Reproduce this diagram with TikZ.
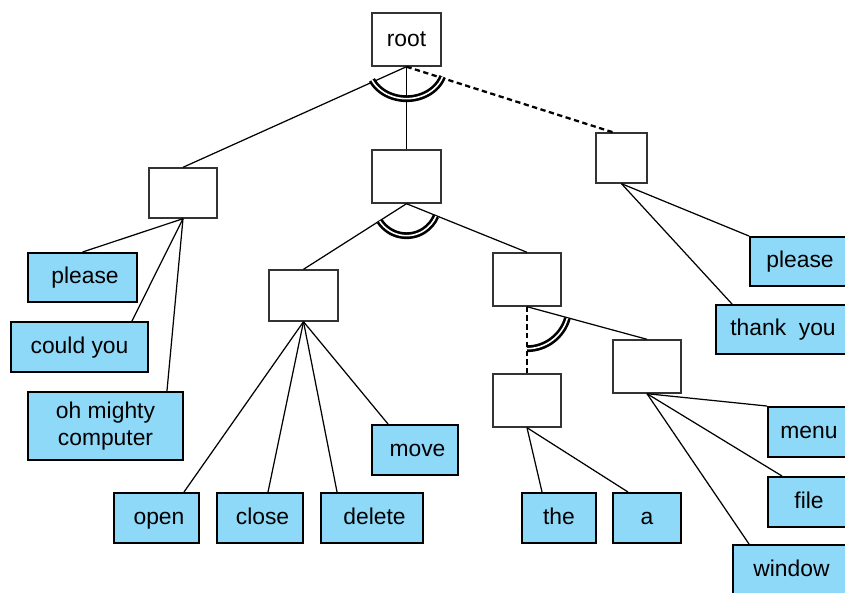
\documentclass[tikz,border=0pt]{standalone}
\usepackage{fontspec}
\setmainfont{Liberation Sans}
\definecolor{wordblue}{RGB}{142,216,248}
\tikzset{
  blank/.style={draw=black!80, line width=0.8pt, fill=white, inner sep=0pt},
  word/.style={draw=black, line width=1.1pt, fill=wordblue, inner sep=0pt,
    minimum height=1cm, font=\fontsize{13}{15}\selectfont, align=center,
    text height=0.9em, text depth=0.2em},
  edge/.style={line width=0.7pt},
  optedge/.style={line width=1.3pt, dash pattern=on 3pt off 2pt},
  andarc/.style={double, line width=1.5pt, double distance=0.9pt}
}
\begin{document}
\begin{tikzpicture}[x=0.02cm, y=-0.02cm]
    \useasboundingbox (0,0) rectangle (845,592);

    % Radice e nodi interni (vuoti)
    \node[blank, minimum width=1.38cm, minimum height=1.06cm,
      font=\fontsize{13}{15}\selectfont] (root) at (406.5,39.5) {root};
    \node[blank, minimum width=1.36cm, minimum height=1.0cm] (polite) at (183,193) {};
    \node[blank, minimum width=1.38cm, minimum height=1.06cm] (command) at (406.5,176.5) {};
    \node[blank, minimum width=1.02cm, minimum height=1.0cm] (thanks) at (621.5,158) {};
    \node[blank, minimum width=1.38cm, minimum height=1.02cm] (verb) at (303.5,295.5) {};
    \node[blank, minimum width=1.36cm, minimum height=1.06cm] (object) at (527,279.5) {};
    \node[blank, minimum width=1.36cm, minimum height=1.06cm] (article) at (527,400.5) {};
    \node[blank, minimum width=1.36cm, minimum height=1.06cm] (noun) at (647,366.5) {};

    % Parole (foglie)
    \node[word, minimum width=2.18cm, minimum height=0.98cm] (please) at (82.5,277.5) {\hspace{0.1cm}please};
    \node[word, minimum width=2.74cm] (couldyou) at (79.5,347) {could you};
    \node[word, minimum width=3.1cm, minimum height=1.36cm, text height=, text depth=]
      (mighty) at (105.5,426) {oh mighty\\computer};
    \node[word, minimum width=1.7cm] (open) at (156.5,518) {\hspace{0.1cm}open};
    \node[word, minimum width=1.72cm] (close) at (260,518) {\hspace{0.1cm}close};
    \node[word, minimum width=2.04cm] (delete) at (372,518) {\hspace{0.1cm}delete};
    \node[word, minimum width=1.72cm] (move) at (415,450) {\hspace{0.1cm}move};
    \node[word, minimum width=1.48cm] (the) at (559,518) {the};
    \node[word, minimum width=1.36cm] (a) at (647,518) {a};
    \node[word, minimum width=1.64cm] (menu) at (809,432) {menu};
    \node[word, minimum width=1.64cm] (file) at (809,502) {file};
    \node[word, minimum width=2.34cm] (window) at (791.5,570) {window};
    \node[word, minimum width=2.0cm, minimum height=0.98cm] (pleaseb) at (800,261.5) {please};
    \node[word, minimum width=2.68cm, minimum height=0.98cm] (thankyou) at (783,329.5) {thank\ \ you};

    % Rami dalla radice
    \draw[edge] (root.south) -- (polite.north);
    \draw[edge] (root.south) -- (command.north);
    \draw[optedge] (root.south) -- ([xshift=-0.17cm]thanks.north);
    \draw[andarc] ([shift={(204.5:0.76cm and 0.64cm)}]root.south)
      arc[start angle=204.5, end angle=342, x radius=0.76cm, y radius=0.64cm];

    % Formule di cortesia
    \draw[edge] (polite.south) -- (please.north);
    \draw[edge] (polite.south) -- ([xshift=-0.34cm]couldyou.north east);
    \draw[edge] (polite.south) -- ([xshift=-0.34cm]mighty.north east);
    \draw[edge] (thanks.south) -- (pleaseb.north west);
    \draw[edge] (thanks.south) -- ([xshift=0.34cm]thankyou.north west);

    % Comando: verbo e oggetto
    \draw[edge] (command.south) -- (verb.north);
    \draw[edge] (command.south) -- (object.north);
    \draw[andarc] ([shift={(213:0.64cm)}]command.south)
      arc[start angle=213, end angle=337, radius=0.64cm];

    % Verbi
    \draw[edge] (verb.south) -- ([xshift=-0.32cm]open.north east);
    \draw[edge] (verb.south) -- ([xshift=0.16cm]close.north);
    \draw[edge] (verb.south) -- ([xshift=0.34cm]delete.north west);
    \draw[edge] (verb.south) -- ([xshift=0.34cm]move.north west);

    % Oggetto: articolo (opzionale) e nome
    \draw[optedge] (object.south) -- (article.north);
    \draw[edge] (object.south) -- (noun.north);
    \draw[andarc] ([shift={(270:0.84cm)}]object.south)
      arc[start angle=270, end angle=344, radius=0.84cm];

    \draw[edge] (article.south) -- ([xshift=0.42cm]the.north west);
    \draw[edge] (article.south) -- ([xshift=0.32cm]a.north west);

    \draw[edge] (noun.south) -- (menu.north west);
    \draw[edge] (noun.south) -- ([xshift=0.3cm]file.north west);
    \draw[edge] (noun.south) -- ([xshift=0.34cm]window.north west);
\end{tikzpicture}
\end{document}
